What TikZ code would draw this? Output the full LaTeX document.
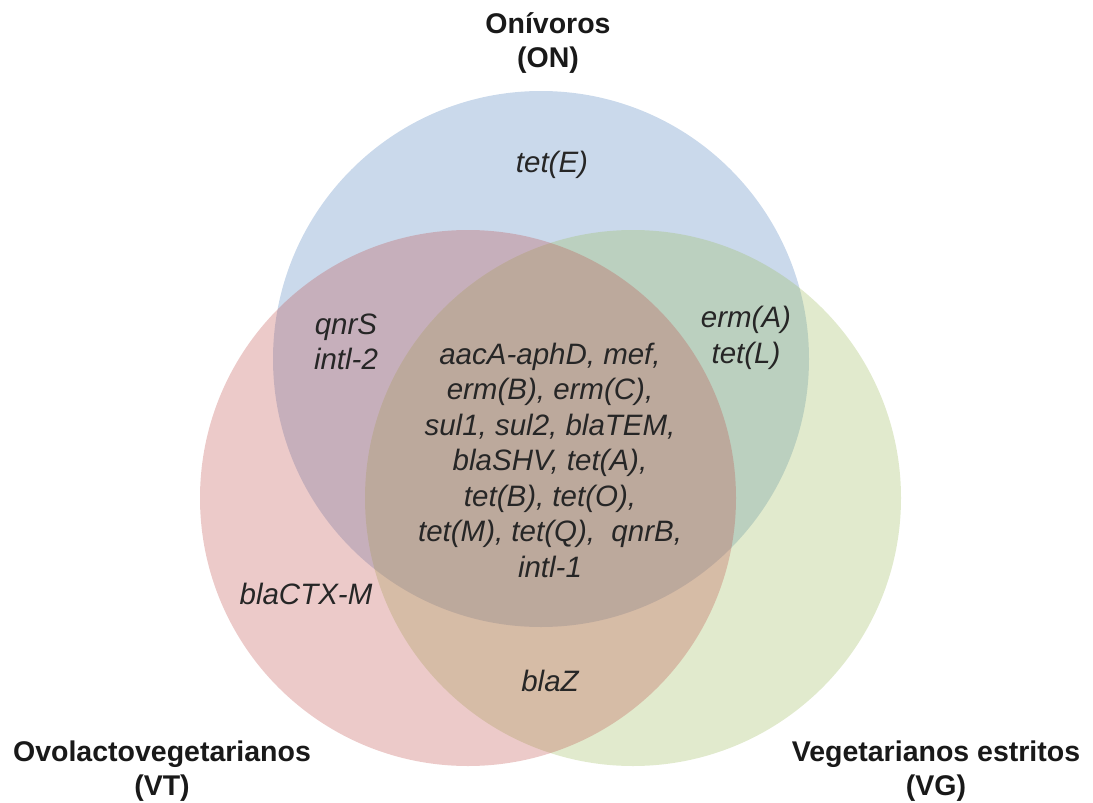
\documentclass[tikz,border=0pt]{standalone}
\usepackage{fontspec}
\setmainfont{Liberation Sans}
\definecolor{onblue}{HTML}{4F81BD}
\definecolor{vtred}{HTML}{C0504D}
\definecolor{vggreen}{HTML}{9BBB59}
\tikzset{
  setcircle/.style={circle, minimum size=536pt, inner sep=0pt, fill opacity=0.3},
  genes/.style={font=\fontsize{29.5}{35.5}\selectfont\itshape, align=center, text=black!85},
  group/.style={font=\fontsize{28.5}{34}\selectfont\bfseries, align=center, text=black!90},
}
\begin{document}
\begin{tikzpicture}[x=1pt, y=-1pt]
        \useasboundingbox (0,0) rectangle (1093,803);
        \node[setcircle, fill=onblue] at (541,359) (on) {};
        \node[setcircle, fill=vggreen] at (633,498) (vg) {};
        \node[setcircle, fill=vtred] at (468,498) (vt) {};

        \node[group] at (548,43) (ontitle) {Onívoros\\(ON)};
        \node[group] at (162,771) (vttitle) {Ovolactovegetarianos\\(VT)};
        \node[group] at (936,771) (vgtitle) {Vegetarianos estritos\\(VG)};

        \node[genes] at (552,165) (onlyon) {tet(E)};
        \node[genes] at (346,342) (onvt) {qnrS\\intl-2};
        \node[genes] at (746,338) (onvg) {erm(A)\\tet(L)};
        \node[genes] at (550,460) (all) {aacA-aphD, mef,\\erm(B), erm(C),\\sul1, sul2, blaTEM,\\blaSHV, tet(A),\\tet(B), tet(O),\\tet(M), tet(Q),~ qnrB,\\intl-1};
        \node[genes] at (306,594) (onlyvt) {blaCTX-M};
        \node[genes] at (550,681) (vtvg) {blaZ};
\end{tikzpicture}
\end{document}
